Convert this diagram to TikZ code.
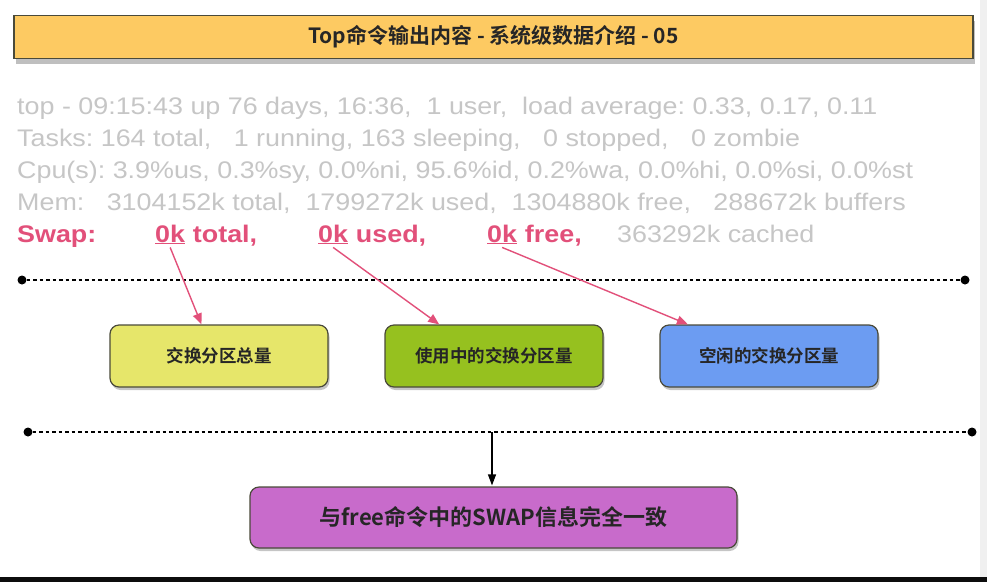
\documentclass[tikz,border=0pt]{standalone}
\usepackage{fontspec}
\setmainfont{Liberation Sans}
\newfontfamily\widesans{Liberation Sans}[FakeStretch=1.12]
\newfontfamily\cjk{Noto Sans CJK SC}[BoldFont={* Bold}]
\usetikzlibrary{shadows,arrows.meta,calc}
\definecolor{grtxt}{HTML}{C6C6C6}
\definecolor{pinkc}{HTML}{E2507A}
\definecolor{titlefill}{HTML}{FDCA62}
\definecolor{yfill}{HTML}{E6E66A}
\definecolor{gfill}{HTML}{96C11F}
\definecolor{bfill}{HTML}{6C9CF2}
\definecolor{pfill}{HTML}{C86BCB}
\definecolor{edgec}{HTML}{4A4A3A}
\frenchspacing
\tikzset{
  graytext/.style={anchor=base west, inner sep=0pt, text=grtxt, font=\widesans\fontsize{24}{28}\selectfont},
  swaptext/.style={anchor=base west, inner sep=0pt, text=pinkc, font=\widesans\fontsize{24}{28}\selectfont\bfseries},
  boxstyle/.style={draw=edgec, line width=1.2pt, rounded corners=9pt, minimum height=62pt,
    drop shadow={shadow xshift=1.5pt, shadow yshift=-3pt, opacity=0.45},
    font=\cjk\bfseries\fontsize{17.5}{20}\selectfont, text=black!85},
  pinkarrow/.style={draw=pinkc, line width=1.4pt, -{Triangle[length=11pt,width=9pt]}},
  blackarrow/.style={draw=black, line width=1.2pt, -{Triangle[length=11pt,width=8pt]}},
  dotline/.style={draw=black, line width=1.3pt, dash pattern=on 3.5pt off 3pt},
  enddot/.style={fill=black, circle, inner sep=0pt, minimum size=9pt}
}
\begin{document}
\begin{tikzpicture}[x=1pt,y=-1pt]
\useasboundingbox (0,0) rectangle (987,582);
\fill[white] (0,0) rectangle (987,582);
\fill[black!6] (980,0) rectangle (987,577);
\fill[black!95] (0,577) rectangle (987,582);
% title
\node[draw=edgec, line width=1.2pt, fill=titlefill, minimum width=959pt, minimum height=43pt,
  drop shadow={shadow xshift=1.5pt, shadow yshift=-5pt, opacity=0.5},
  font=\cjk\bfseries\fontsize{21}{24}\selectfont, text=black!85] (title) at (493.5,37)
  {Top命令输出内容 - 系统级数据介绍 - 05};
% text lines
\node[graytext] (l1) at (17,114) {top - 09:15:43 up 76 days, 16:36,~~1 user,~~load average: 0.33, 0.17, 0.11};
\node[graytext] (l2) at (17,146) {Tasks: 164 total,~~~1 running, 163 sleeping,~~~0 stopped,~~~0 zombie};
\node[graytext] (l3) at (17,178) {Cpu(s): 3.9\%us, 0.3\%sy, 0.0\%ni, 95.6\%id, 0.2\%wa, 0.0\%hi, 0.0\%si, 0.0\%st};
\node[graytext] (l4) at (17,210) {Mem:~~~3104152k total,~~1799272k used,~~1304880k free,~~~288672k buffers};
\node[swaptext] (swap) at (17,242) {Swap:};
\node[swaptext] (k1) at (155,242) {\underline{0k}};
\node[swaptext, anchor=base west] (t1) at (k1.base east) {\ total,};
\node[swaptext] (k2) at (318,242) {\underline{0k}};
\node[swaptext, anchor=base west] (t2) at (k2.base east) {\ used,};
\node[swaptext] (k3) at (487,242) {\underline{0k}};
\node[swaptext, anchor=base west] (t3) at (k3.base east) {\ free,};
\node[graytext] (cached) at (617,242) {363292k cached};
% dotted line 1
\node[enddot] (d1a) at (22,280) {};
\node[enddot] (d1b) at (965,280) {};
\draw[dotline] (d1a) -- (d1b);
% boxes
\node[boxstyle, fill=yfill, minimum width=218pt] (b1) at (219,356) {交换分区总量};
\node[boxstyle, fill=gfill, minimum width=218pt] (b2) at (494,356) {使用中的交换分区量};
\node[boxstyle, fill=bfill, minimum width=218pt] (b3) at (769,356) {空闲的交换分区量};
% pink arrows
\draw[pinkarrow] ($(k1.south)+(0,3)$) -- ($(b1.north west)!0.42!(b1.north east)$);
\draw[pinkarrow] ($(k2.south)+(0,3)$) -- ($(b2.north west)!0.25!(b2.north east)$);
\draw[pinkarrow] ($(k3.south)+(0,3)$) -- ($(b3.north west)!0.13!(b3.north east)$);
% dotted line 2
\node[enddot] (d2a) at (28,432) {};
\node[enddot] (d2b) at (972,432) {};
\draw[dotline] (d2a) -- (d2b);
\coordinate (mid) at (492,432);
% bottom box
\node[boxstyle, fill=pfill, minimum width=487pt, minimum height=61pt,
  font=\cjk\bfseries\fontsize{22}{26}\selectfont] (b4) at (493.5,517.5) {与free命令中的SWAP信息完全一致};
\draw[blackarrow] (mid) -- ($(b4.north)+(-1.5,-1)$);
\end{tikzpicture}
\end{document}
